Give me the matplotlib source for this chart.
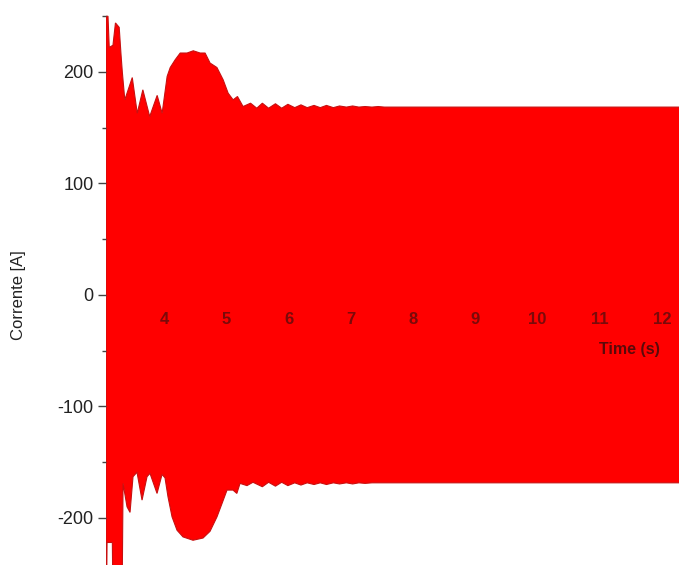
import numpy as np
import matplotlib.pyplot as plt
from matplotlib.ticker import MultipleLocator

# envelope of the phase current (upper / lower peaks), time in s, current in A
upper_t = [3.068, 3.10, 3.12, 3.18, 3.22, 3.28, 3.31, 3.33, 3.37, 3.49, 3.57, 3.66, 3.77, 3.89,
           3.97, 4.05, 4.10, 4.18, 4.26, 4.37, 4.47, 4.58, 4.66, 4.74, 4.85, 4.95, 5.03, 5.11,
           5.18, 5.27, 5.39, 5.49, 5.58, 5.68, 5.79, 5.89, 5.99, 6.10, 6.20, 6.30, 6.41, 6.51,
           6.61, 6.72, 6.82, 6.93, 7.03, 7.13, 7.23, 7.34, 7.44, 7.54, 7.65, 12.30]
upper_a = [250, 250, 222, 224, 244, 240, 215, 200, 175, 195, 163, 184, 160, 179,
           163, 196, 204, 211, 217, 217, 219, 217, 217, 208, 204, 193, 181, 175,
           178, 169, 172, 167.5, 172, 167.5, 171.5, 167.5, 171, 168, 170.5, 168, 170, 168,
           170, 168, 169.5, 168.5, 169.5, 168.5, 169, 168.5, 169, 168.5, 168.5, 168.5]

lower_t = [3.068, 3.08, 3.085, 3.17, 3.175, 3.33, 3.342, 3.406, 3.454, 3.502, 3.566, 3.647,
           3.727, 3.775, 3.888, 3.968, 4.016, 4.064, 4.129, 4.209, 4.305, 4.466, 4.627, 4.739,
           4.851, 4.932, 5.012, 5.108, 5.17, 5.221, 5.333, 5.429, 5.58, 5.68, 5.79, 5.89,
           5.99, 6.10, 6.20, 6.30, 6.41, 6.51, 6.61, 6.72, 6.82, 6.93, 7.03, 7.13, 7.23,
           7.34, 12.30]
lower_a = [-250, -250, -222, -222, -250, -250, -169, -190, -195, -163, -159, -184,
           -163, -160, -178, -161, -164, -181, -199, -211, -217, -220, -218, -212,
           -199, -187, -175, -175, -178, -169, -171, -168, -172, -168, -171.5, -168,
           -171, -168.5, -170.5, -168.5, -170, -168.5, -170, -168.5, -169.5, -168.5, -169.5, -168.5, -169,
           -168.5, -168.5]

x_ticks = [4, 5, 6, 7, 8, 9, 10, 11, 12]
y_ticks = [-200, -100, 0, 100, 200]

plt.rcParams['font.family'] = ['Liberation Sans', 'DejaVu Sans']
plt.rcParams['axes.unicode_minus'] = False

fig = plt.figure(figsize=(6.79, 5.65), dpi=100)
ax = fig.add_axes([106/679, 0, 1 - 106/679, 550/565])

# closed outline: upper envelope left->right, lower envelope right->left
px = np.concatenate([upper_t, lower_t[::-1]])
py = np.concatenate([upper_a, lower_a[::-1]])
ax.fill(px, py, facecolor='#ff0000', edgecolor='#c81010', linewidth=0.8, zorder=1)

ax.set_xlim(3.068, 12.273)
ax.set_ylim(-242.2, 251.1)

for side in ['top', 'right', 'bottom', 'left']:
    ax.spines[side].set_visible(False)

ax.set_xticks(x_ticks)
ax.xaxis.set_ticks_position('bottom')
ax.spines['bottom'].set_position(('data', 0))
ax.tick_params(axis='x', length=0, pad=12, labelsize=12, labelcolor='#7a0a0a')
for lb in ax.get_xticklabels():
    lb.set_fontweight('bold')

ax.set_yticks(y_ticks)
ax.yaxis.set_minor_locator(MultipleLocator(50))
ax.tick_params(axis='y', which='major', length=6, width=1, color='#444444',
               labelsize=13, labelcolor='#222222', pad=3)
ax.tick_params(axis='y', which='minor', length=3, width=1, color='#444444')

ax.set_ylabel('Corrente [A]', fontsize=12, color='#222222')
ax.yaxis.set_label_coords(-0.14, 0.491)

ax.set_xlabel('Time (s)', fontsize=11.5, fontweight='bold', color='#5a0a0a', va='center')
ax.xaxis.set_label_coords(0.914, 0.391)

fig.savefig('out.png', dpi=100)
